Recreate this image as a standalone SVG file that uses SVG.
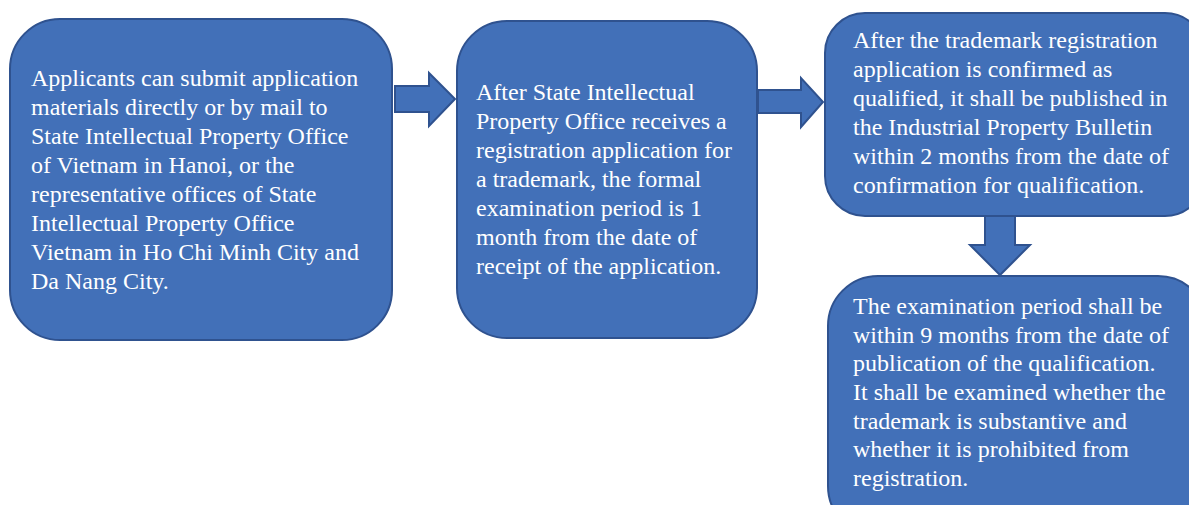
<svg xmlns="http://www.w3.org/2000/svg" width="1189" height="505" viewBox="0 0 1189 505">
<style>
.box{fill:#4270B8;stroke:#2F528F;stroke-width:2}
.arr{fill:#4270B8;stroke:#2F528F;stroke-width:2;stroke-linejoin:miter}
text{font-family:"Liberation Serif","Times New Roman",serif;font-size:24px;fill:#ffffff}
</style>
<rect width="1189" height="505" fill="#ffffff"/>
<g id="connectors">
<polygon class="arr" points="395,86 429,86 429,73 455,99 429,126 429,112 395,112"/>
<polygon class="arr" points="758,90 801,90 801,78 823,102 801,127 801,113 758,113"/>
<polygon class="arr" points="985,216 1015,216 1015,245 1030,245 1000,275 970,245 985,245"/>
</g>
<g id="node1">
<rect class="box" x="10" y="19" width="382" height="321" rx="50"/>
<text x="31" y="86">Applicants can submit application</text>
<text x="31" y="115">materials directly or by mail to</text>
<text x="31" y="144">State Intellectual Property Office</text>
<text x="31" y="173">of Vietnam in Hanoi, or the</text>
<text x="31" y="202">representative offices of State</text>
<text x="31" y="231">Intellectual Property Office</text>
<text x="31" y="260">Vietnam in Ho Chi Minh City and</text>
<text x="31" y="289">Da Nang City.</text>
</g>
<g id="node2">
<rect class="box" x="457" y="21" width="300" height="317" rx="50"/>
<text x="476" y="100">After State Intellectual</text>
<text x="476" y="129">Property Office receives a</text>
<text x="476" y="158">registration application for</text>
<text x="476" y="187">a trademark, the formal</text>
<text x="476" y="216">examination period is 1</text>
<text x="476" y="245">month from the date of</text>
<text x="476" y="274">receipt of the application.</text>
</g>
<g id="node3">
<rect class="box" x="825" y="13" width="380" height="203" rx="40"/>
<text x="853" y="48">After the trademark registration</text>
<text x="853" y="77">application is confirmed as</text>
<text x="853" y="106">qualified, it shall be published in</text>
<text x="853" y="135">the Industrial Property Bulletin</text>
<text x="853" y="164">within 2 months from the date of</text>
<text x="853" y="193">confirmation for qualification.</text>
</g>
<g id="node4">
<rect class="box" x="828" y="276" width="380" height="260" rx="50"/>
<text x="853" y="314">The examination period shall be</text>
<text x="853" y="343">within 9 months from the date of</text>
<text x="853" y="371">publication of the qualification.</text>
<text x="853" y="400">It shall be examined whether the</text>
<text x="853" y="429">trademark is substantive and</text>
<text x="853" y="457">whether it is prohibited from</text>
<text x="853" y="486">registration.</text>
</g>
</svg>
